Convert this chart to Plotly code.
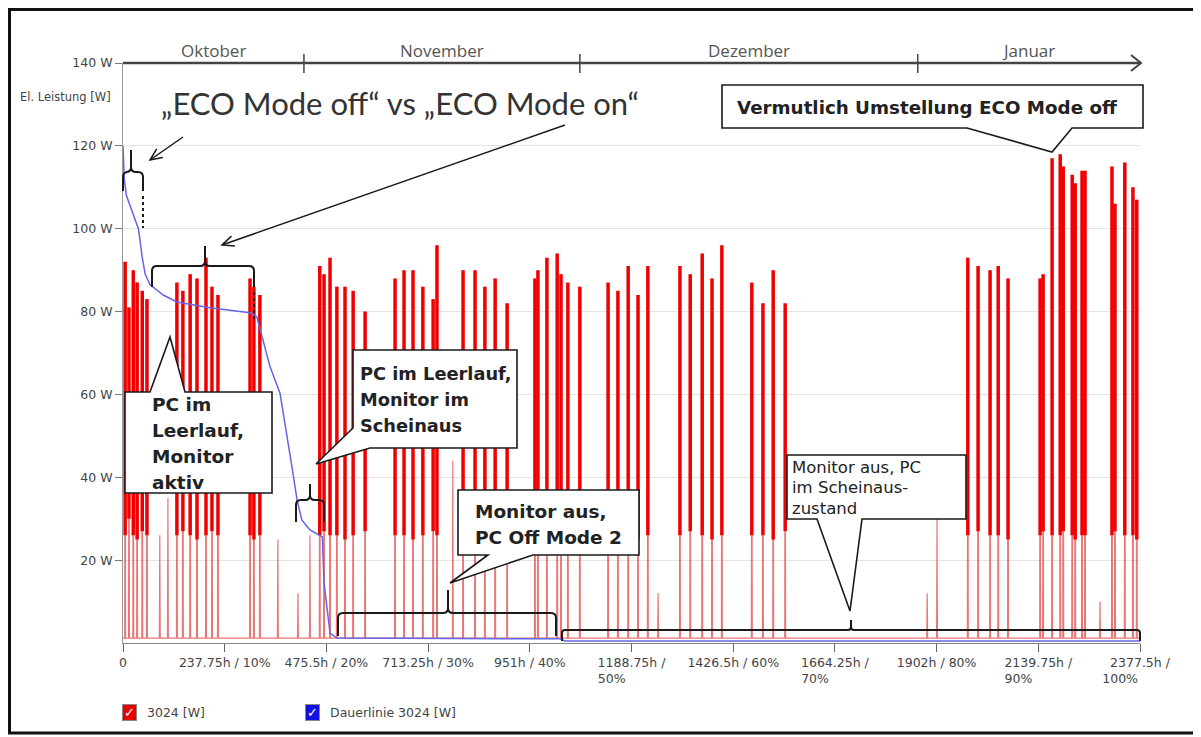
import math
import plotly.graph_objects as go

# ---------------------------------------------------------------- data
x_tick_hours = [0, 237.75, 475.5, 713.25, 951, 1188.75, 1426.5, 1664.25, 1902, 2139.75, 2377.5]
x_tick_text = ["0", "237.75h / 10%", "475.5h / 20%", "713.25h / 30%", "951h / 40%",
               "1188.75h /<br>50%", "1426.5h / 60%", "1664.25h /<br>70%", "1902h / 80%",
               "2139.75h /<br>90%", "2377.5h /<br>100%"]
y_tick_watts = [20, 40, 60, 80, 100, 120, 140]

month_names = ["Oktober", "November", "Dezember", "Januar"]
month_bounds_h = [0, 423, 1068, 1858, 2377.5]

# 3024 [W]: working-day blocks (hour, peak in W, lower edge of the dense band in W)
spike_h = [5, 14, 24, 33, 45, 56,
           126, 140, 157, 173, 194, 208, 222,
           297, 306, 320,
           460, 470, 484, 500, 519, 538, 566,
           636, 657, 678, 701, 725, 734,
           795, 823, 846, 870, 898,
           963, 970, 991, 1015, 1024, 1040, 1068,
           1134, 1157, 1181, 1204, 1227,
           1302, 1326, 1354, 1377, 1400,
           1470, 1496, 1520, 1548,
           1975, 1999, 2027, 2046, 2069,
           2144, 2151, 2172, 2191, 2198, 2219, 2226, 2242, 2249,
           2312, 2319, 2342, 2361, 2370]
spike_peak = [92, 81, 90, 87, 85, 83,
              87, 85, 89, 88, 93, 86, 84,
              88, 86, 84,
              91, 89, 93, 86, 86, 85, 80,
              88, 90, 90, 86, 83, 96,
              90, 90, 86, 88, 82,
              88, 90, 93, 94, 89, 87, 86,
              87, 85, 91, 84, 91,
              91, 89, 94, 88, 96,
              87, 82, 90, 82,
              93, 91, 90, 91, 88,
              88, 89, 117, 118, 115, 113, 111, 114, 114,
              115, 106, 116, 110, 107]
spike_low = [26, 30, 26, 25, 27, 26,
             26, 27, 26, 25, 26, 27, 26,
             26, 25, 26,
             26, 27, 26, 26, 25, 26, 27,
             26, 26, 25, 26, 27, 26,
             26, 25, 26, 27, 26,
             26, 25, 26, 26, 27, 26, 25,
             26, 26, 27, 25, 26,
             26, 27, 26, 25, 26,
             26, 26, 25, 27,
             26, 27, 26, 26, 25,
             26, 27, 26, 26, 27, 26, 25, 26, 26,
             26, 27, 26, 26, 25]
# short single switch-ons
pale_h = [86, 105, 362, 409, 437, 771, 1251, 1880, 1903, 2284]
pale_w = [26, 35, 25, 12, 26, 44, 12, 12, 30, 10]
base_w = 1.2

# Dauerlinie 3024 [W] (load duration curve)
dauer_h = [0, 3, 8, 20, 30, 36, 40, 45, 52, 63, 94, 126, 203, 297, 313, 327, 344, 367,
           383, 395, 407, 418, 437, 466, 470, 484, 500, 1022, 1033, 2377.5]
dauer_w = [120, 112, 108, 104.5, 102, 100, 97, 93, 89, 86.5, 84, 82.3, 80.9, 79.7, 78.7,
           73, 66.6, 60.3, 50.7, 42.5, 34.5, 29.7, 27.3, 25.6, 14.5, 2.4, 1.2, 1.0, 0.5, 0.5]

# ---------------------------------------------------------------- traces
events = sorted(list(zip(spike_h, spike_peak)) + list(zip(pale_h, pale_w)))
pale_x, pale_y = [0], [base_w]
for h, top in events:
    pale_x += [h - 1, h, h + 1]
    pale_y += [base_w, top, base_w]
pale_x.append(x_tick_hours[-1])
pale_y.append(base_w)

dark_x, dark_y = [], []
for h, top, low in zip(spike_h, spike_peak, spike_low):
    dark_x += [h, h, None]
    dark_y += [low, top, None]

fig = go.Figure()
fig.add_trace(go.Scatter(x=pale_x, y=pale_y, mode="lines", name="3024 [W]",
                         line=dict(color="rgba(228,70,70,0.75)", width=1.2)))
fig.add_trace(go.Scatter(x=dark_x, y=dark_y, mode="lines", name="3024 [W]",
                         line=dict(color="#F00000", width=3.5)))
fig.add_trace(go.Scatter(x=dauer_h, y=dauer_w, mode="lines", name="Dauerlinie 3024 [W]",
                         line=dict(color="#6464E6", width=1.5)))

# ---------------------------------------------------------------- helpers (page pixel -> paper)
# the page body has an 8 px margin, so the figure is 8 px smaller than the window
OFF = 8
W, H = 1201 - OFF, 737 - OFF
L, R, T, B = 123, 1140, 63, 643


def fx(p):
    return (p - L) / (R - L)


def fy(p):
    return (B - p) / (B - T)


def path_of(points, close=False):
    s = " ".join(("M" if i == 0 else "L") + f"{fx(x):.5f},{fy(y):.5f}" for i, (x, y) in enumerate(points))
    return s + (" Z" if close else "")


shapes = []
annos = []
INK = "#1a1a1a"
SANS = "DejaVu Sans"


def line_path(points, width=1.5, color=INK, dash="solid"):
    shapes.append(dict(type="path", xref="paper", yref="paper", path=path_of(points),
                       line=dict(color=color, width=width, dash=dash), layer="above"))


def text(x, y, s, size, family=SANS, color="#222", xanchor="center", xref="paper"):
    annos.append(dict(xref=xref, yref="paper", x=x, y=y, text=s, showarrow=False,
                      xanchor=xanchor, yanchor="middle",
                      font=dict(family=family, size=size, color=color)))


def bubble(points, lines, x_text, y_first, step, size, bold=True):
    shapes.append(dict(type="path", xref="paper", yref="paper", path=path_of(points, True),
                       fillcolor="white", line=dict(color=INK, width=1.6), layer="above"))
    for i, t in enumerate(lines):
        text(fx(x_text), fy(y_first + i * step), f"<b>{t}</b>" if bold else t, size,
             color="#222", xanchor="left")


def brace(xa, xb, xm, ybar, yend, ytop, r=5):
    def P(x, y):
        return f"{fx(x):.5f},{fy(y):.5f}"
    d = (f"M{P(xa, yend)} L{P(xa, ybar + r)} Q{P(xa, ybar)} {P(xa + r, ybar)} "
         f"L{P(xm - r, ybar)} Q{P(xm, ybar)} {P(xm, ybar - r)} L{P(xm, ytop)} "
         f"M{P(xm, ybar - r)} Q{P(xm, ybar)} {P(xm + r, ybar)} "
         f"L{P(xb - r, ybar)} Q{P(xb, ybar)} {P(xb, ybar + r)} L{P(xb, yend)}")
    shapes.append(dict(type="path", xref="paper", yref="paper", path=d,
                       line=dict(color=INK, width=2), layer="above"))


def arrow(x0, y0, x1, y1, head=13, ang=24):
    line_path([(x0, y0), (x1, y1)], width=1.5)
    a = math.atan2(y0 - y1, x0 - x1)
    pts = []
    for s in (-1, 1):
        b = a + s * math.radians(ang)
        pts.append((x1 + head * math.cos(b), y1 + head * math.sin(b)))
    line_path([pts[0], (x1, y1), pts[1]], width=1.5)


# ---------------------------------------------------------------- month timeline on top
line_path([(L, 63), (R + 1, 63)], width=2.5, color="#444")
line_path([(R - 9, 55), (R + 1, 63), (R - 9, 71)], width=2, color="#444")
for b in month_bounds_h[1:-1]:
    shapes.append(dict(type="line", xref="x", yref="paper", x0=b, x1=b, y0=fy(54), y1=fy(73),
                       line=dict(color="#444", width=1.5), layer="above"))
for name, a, b in zip(month_names, month_bounds_h[:-1], month_bounds_h[1:]):
    text((a + b) / 2, fy(50), name, 17, family="Open Sans", color="#555", xref="x")

# ---------------------------------------------------------------- braces and arrows
brace(123, 143, 131, 172, 191, 150)
line_path([(143, 196), (143, 228)], width=2, dash="dot")
brace(152, 254, 205, 266, 287, 246)
line_path([(254, 292), (254, 320)], width=2, dash="dot")
brace(296, 324, 310, 500, 522, 484)
brace(338, 556, 448, 613, 636, 590)
brace(562, 1140, 851, 630, 641, 620, r=3)

arrow(183, 137, 150, 160)
arrow(565, 125, 222, 245)

text(fx(400), fy(103), "\u201eECO Mode off\u201c vs \u201eECO Mode on\u201c", 31,
     family="Lato", color="#333")

# ---------------------------------------------------------------- callouts
bubble([(125, 392), (150, 392), (170, 337), (185, 392), (272, 392), (272, 493), (125, 493)],
       ["PC im", "Leerlauf,", "Monitor", "aktiv"], 150, 404, 26.3, 18.5)
bubble([(353, 350), (517, 350), (517, 448), (370, 448), (316, 464), (353, 428)],
       ["PC im Leerlauf,", "Monitor im", "Scheinaus"], 358, 373, 26.3, 17.8)
bubble([(458, 490), (639, 490), (639, 555), (533, 555), (450, 583), (488, 555), (458, 555)],
       ["Monitor aus,", "PC Off Mode 2"], 473, 511, 26.5, 18.5)
bubble([(787, 455), (966, 455), (966, 519), (862, 519), (850, 611), (817, 519), (787, 519)],
       ["Monitor aus, PC", "im Scheinaus-", "zustand"], 790, 467, 20.5, 16.5, bold=False)
bubble([(722, 85), (1143, 85), (1143, 128), (1072, 128), (1052, 152), (967, 128), (722, 128)],
       ["Vermutlich Umstellung ECO Mode off"], 735, 107, 0, 18.3)

# ---------------------------------------------------------------- legend (check boxes)
for bx, color, label in [(129, "#E60000", "3024 [W]"), (312, "#1010E0", "Dauerlinie 3024 [W]")]:
    annos.append(dict(xref="paper", yref="paper", x=fx(bx), y=fy(712), text="<b>\u2713</b>",
                      showarrow=False, xanchor="center", yanchor="middle",
                      width=13, height=15, bgcolor=color, bordercolor="#888",
                      borderwidth=1, borderpad=0,
                      font=dict(family=SANS, size=13, color="white")))
    text(fx(bx + 16), fy(712), label, 12.5, color="#444", xanchor="left")

# y axis title
text(fx(113), fy(97), "El. Leistung [W]", 11.5, color="#444", xanchor="right")

# outer frame (left/top edges sit on the figure border)
shapes.append(dict(type="rect", xref="paper", yref="paper", x0=fx(9.5), x1=fx(1196), y0=fy(9.5), y1=fy(733),
                   line=dict(color="#111", width=3), layer="above"))

pad = "\u00a0" * 10
ticktext = [t + pad if "<br>" in t else t for t in x_tick_text]

fig.update_layout(
    width=W, height=H,
    margin=dict(l=L - OFF, r=W - (R - OFF), t=T - OFF, b=H - (B - OFF)),
    paper_bgcolor="white", plot_bgcolor="white",
    showlegend=False,
    shapes=shapes, annotations=annos,
    xaxis=dict(range=[0, x_tick_hours[-1]], tickvals=x_tick_hours, ticktext=ticktext,
               showgrid=False, zeroline=False, showline=True, linecolor="#888", linewidth=1,
               ticks="outside", ticklen=8, tickcolor="#666", automargin=False,
               tickfont=dict(family=SANS, size=12.5, color="#444")),
    yaxis=dict(range=[0, 140], tickvals=y_tick_watts, ticktext=[f"{v} W" for v in y_tick_watts],
               showgrid=True, gridcolor="#E4E4E4", zeroline=False, showline=True,
               linecolor="#999", linewidth=1, ticks="outside", ticklen=7, tickcolor="#777",
               automargin=False,
               tickfont=dict(family=SANS, size=12.5, color="#444")),
)

fig.write_html("out.html")
